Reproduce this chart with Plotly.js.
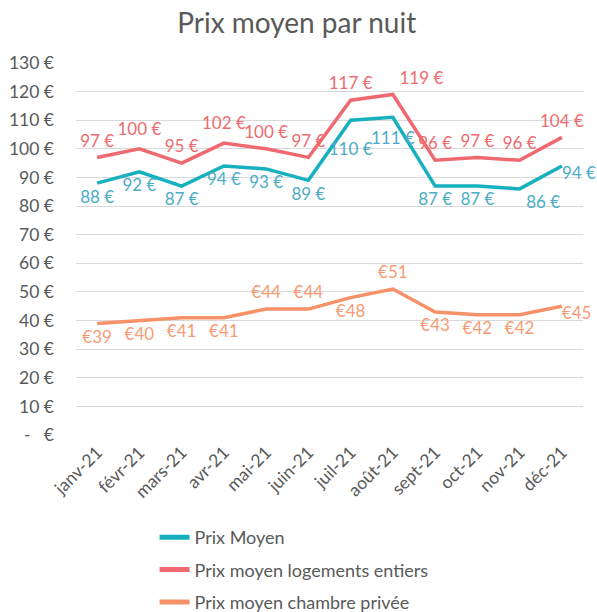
<!DOCTYPE html>
<html>
<head>
<meta charset="utf-8">
<script src="https://cdn.plot.ly/plotly-3.0.1.min.js"></script>
<style>html,body{margin:0;padding:0;background:#fff;}#chart{width:597px;height:612px;}</style>
</head>
<body>
<div id="chart"></div>
<script>
const months = ['janv-21','févr-21','mars-21','avr-21','mai-21','juin-21','juil-21','août-21','sept-21','oct-21','nov-21','déc-21'];
const prixMoyen = [88, 92, 87, 94, 93, 89, 110, 111, 87, 87, 86, 94];
const prixEntiers = [97, 100, 95, 102, 100, 97, 117, 119, 96, 97, 96, 104];
const prixChambre = [39, 40, 41, 41, 44, 44, 48, 51, 43, 42, 42, 45];
const yTickVals = [0,10,20,30,40,50,60,70,80,90,100,110,120,130];
const yTickText = ['-   €','10 €','20 €','30 €','40 €','50 €','60 €','70 €','80 €','90 €','100 €','110 €','120 €','130 €'];

// label placement (style only)
const posMoyen = ['bottom center','bottom center','bottom center','bottom center','bottom center','bottom center','bottom center','bottom center','bottom center','bottom center','bottom right','bottom right'];
const gapMoyen = [9,9,9,9,9,9,34,20,9,9,9,0];
const posEntiers = ['top center','top center','top center','top center','top center','top center','top center','top right','top center','top center','top center','top center'];
const gapEntiers = [9,14,9,14,9,9,9,9,9,9,9,9];
const posChambre = ['bottom center','bottom center','bottom center','bottom center','top center','top center','bottom center','top center','bottom center','bottom center','bottom center','bottom right'];
const gapChambre = [9,9,9,9,9,9,9,9,9,9,9,0];

const font = 'Lato, "Open Sans", sans-serif';

function mk(name, y, txt, pos, gap, lc, tc, grp) {
  return {x: months, y: y, name: name, mode: 'lines+markers+text', legendgroup: grp,
    line: {color: lc, width: 3.5},
    marker: {size: gap, opacity: 0, color: 'rgba(0,0,0,0)', line: {width: 0}},
    text: txt, textposition: pos,
    textfont: {family: font, size: 17, color: tc}, cliponaxis: false, hoverinfo: 'none'};
}

const traces = [
  mk('Prix Moyen', prixMoyen, prixMoyen.map(v => v + ' €'), posMoyen, gapMoyen, '#17B0BE', '#4BACC6', 'a'),
  mk('Prix moyen logements entiers', prixEntiers, prixEntiers.map(v => v + ' €'), posEntiers, gapEntiers, '#EF6A70', '#EE6B6E', 'b'),
  mk('Prix moyen chambre privée', prixChambre, prixChambre.map(v => '€' + v), posChambre, gapChambre, '#F69168', '#F79B74', 'c')
];

const layout = {
  width: 597, height: 612,
  margin: {l: 76, r: 14, t: 63, b: 177, pad: 0},
  paper_bgcolor: '#fff', plot_bgcolor: '#fff',
  title: {text: 'Prix moyen par nuit', x: 0.497, xanchor: 'center', y: 0.962, yanchor: 'middle',
          font: {family: font, size: 28, color: '#595959'}},
  font: {family: font, color: '#595959'},
  xaxis: {type: 'category', range: [-0.5, 11.5], tickangle: -45, showgrid: false, zeroline: false,
          showline: false, ticks: '', ticklabelstandoff: 3, tickfont: {family: font, size: 17.5, color: '#595959'}},
  yaxis: {range: [0, 130], tickvals: yTickVals, ticktext: yTickText, showgrid: true, gridcolor: '#D9D9D9',
          gridwidth: 1, zeroline: false, showline: false, ticks: '', ticklabelstandoff: 21,
          tickfont: {family: font, size: 17.5, color: '#595959'}},
  showlegend: true,
  legend: {x: 0.155, xanchor: 'left', yref: 'container', y: 0.152, yanchor: 'top', orientation: 'v',
           traceorder: 'grouped', tracegroupgap: 6, itemsizing: 'constant',
           font: {family: font, size: 18, color: '#595959'}, itemwidth: 30, bgcolor: 'rgba(0,0,0,0)'}
};

Plotly.newPlot('chart', traces, layout, {displayModeBar: false, staticPlot: true});
</script>
</body>
</html>
